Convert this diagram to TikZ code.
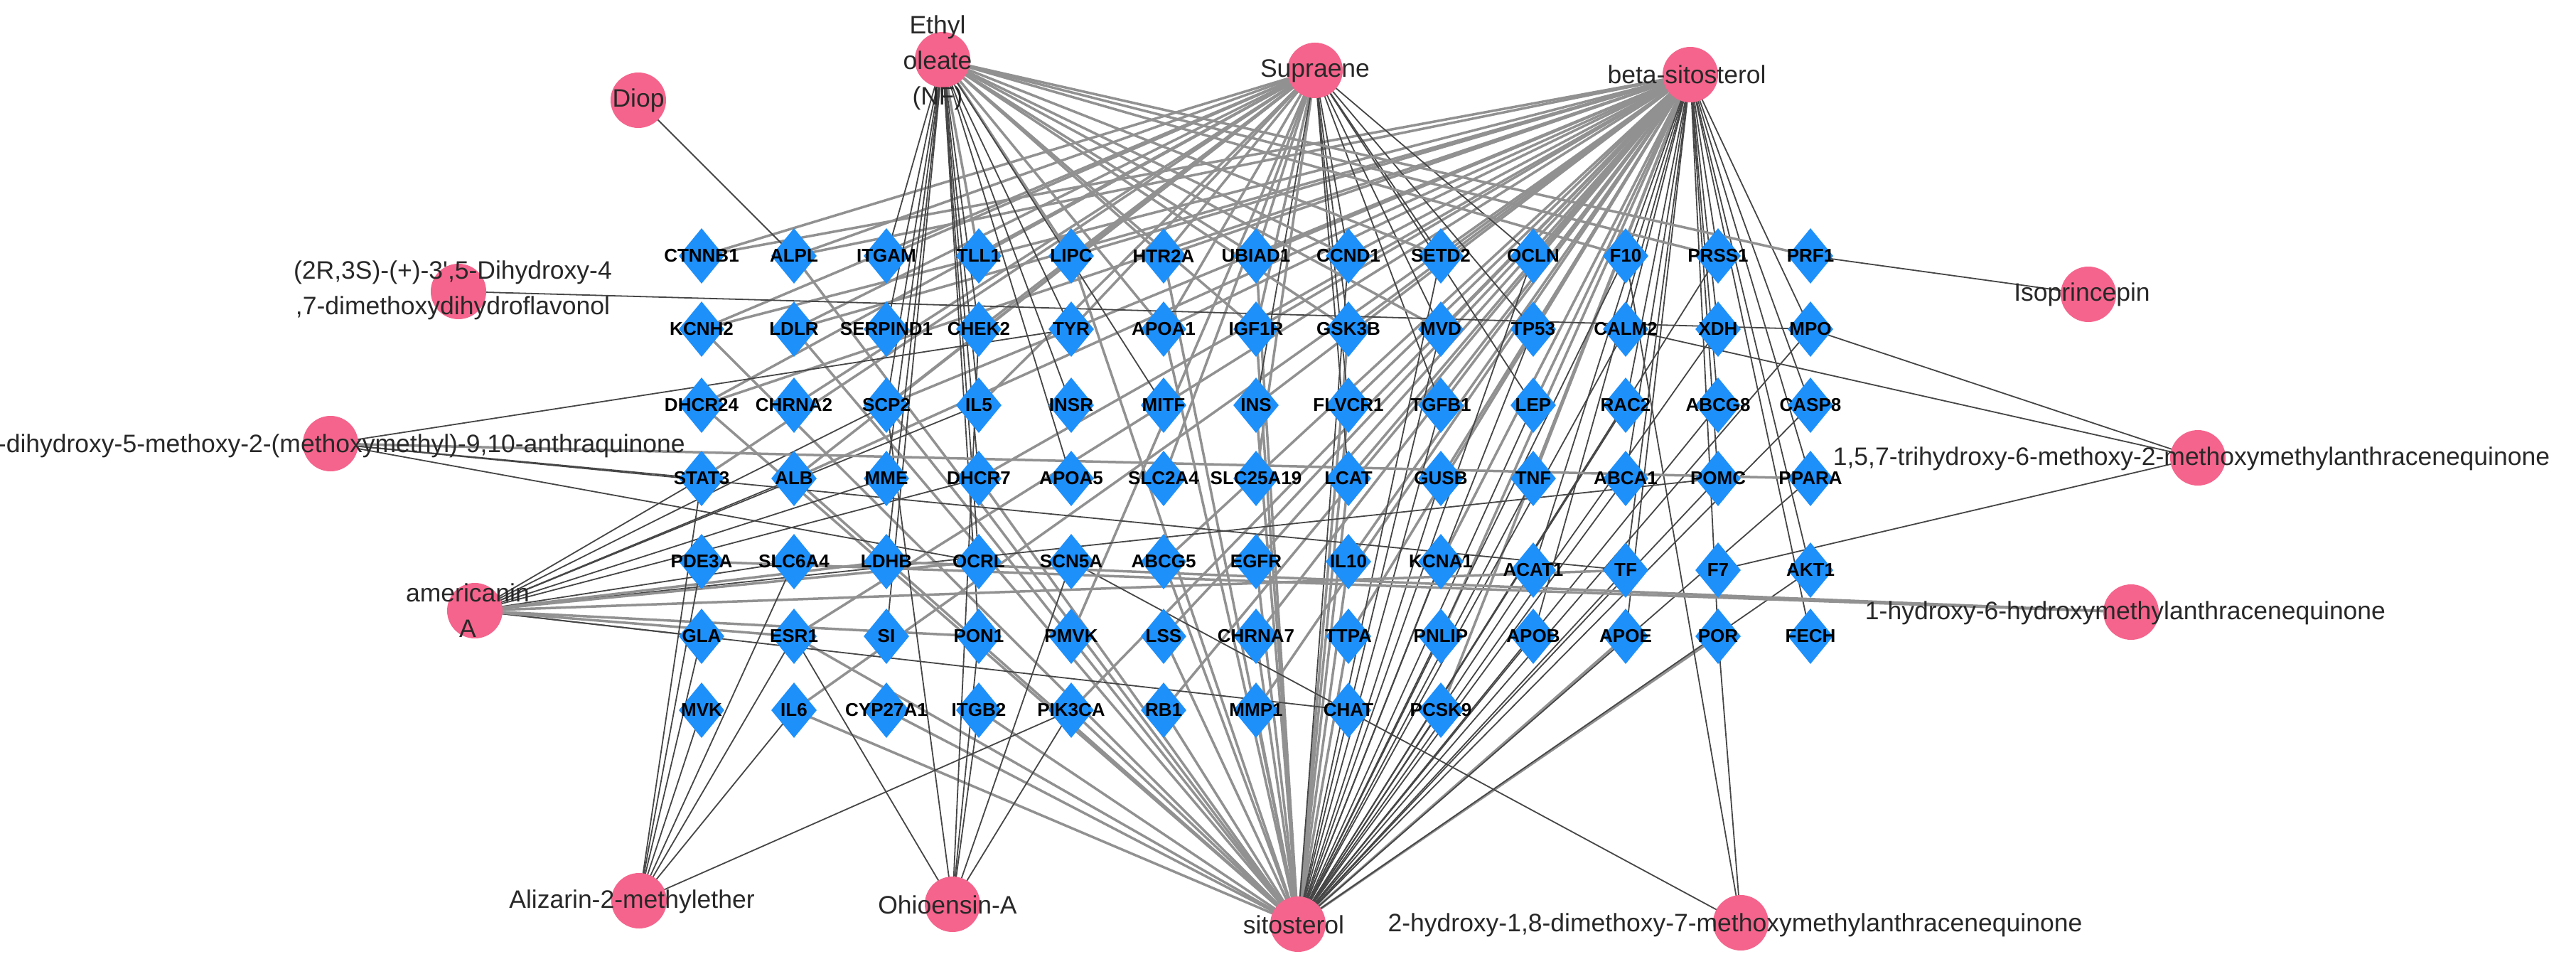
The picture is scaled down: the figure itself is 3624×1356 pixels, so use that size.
\documentclass[tikz,border=0pt]{standalone}
\usepackage{fontspec}
\setmainfont{Liberation Sans}
\usetikzlibrary{shapes.geometric,backgrounds}
\definecolor{pinkc}{RGB}{245,100,140}
\definecolor{bluec}{RGB}{30,144,250}
\definecolor{edgeg}{RGB}{145,145,145}
\definecolor{edged}{RGB}{70,70,70}
\definecolor{txtc}{RGB}{40,40,40}
\begin{document}
\begin{tikzpicture}[x=1pt,y=-1pt,
  gene/.style={diamond,fill=bluec,draw=none,minimum width=64pt,minimum height=78pt,inner sep=0pt},
  glbl/.style={font=\fontsize{26}{28}\selectfont\bfseries,text=black,inner sep=0pt},
  comp/.style={circle,fill=pinkc,draw=none,minimum size=78pt,inner sep=0pt},
  clbl/.style={font=\fontsize{35.5}{50}\selectfont,text=txtc,align=center,inner sep=0pt},
  ge/.style={draw=edgeg,line width=3.5pt},
  de/.style={draw=edged,line width=1.8pt}]
\useasboundingbox (0,0) rectangle (3624,1356);

% ---- gene grid ----
\foreach \n [count=\i from 0] in {CTNNB1,ALPL,ITGAM,TLL1,LIPC,HTR2A,UBIAD1,CCND1,SETD2,OCLN,F10,PRSS1,PRF1}
  \node[gene,label={[glbl]center:\n}] (\n) at ({987+130*\i},360) {};
\foreach \n [count=\i from 0] in {KCNH2,LDLR,SERPIND1,CHEK2,TYR,APOA1,IGF1R,GSK3B,MVD,TP53,CALM2,XDH,MPO}
  \node[gene,label={[glbl]center:\n}] (\n) at ({987+130*\i},463) {};
\foreach \n [count=\i from 0] in {DHCR24,CHRNA2,SCP2,IL5,INSR,MITF,INS,FLVCR1,TGFB1,LEP,RAC2,ABCG8,CASP8}
  \node[gene,label={[glbl]center:\n}] (\n) at ({987+130*\i},570) {};
\foreach \n [count=\i from 0] in {STAT3,ALB,MME,DHCR7,APOA5,SLC2A4,SLC25A19,LCAT,GUSB,TNF,ABCA1,POMC,PPARA}
  \node[gene,label={[glbl]center:\n}] (\n) at ({987+130*\i},673) {};
\foreach \n [count=\i from 0] in {PDE3A,SLC6A4,LDHB,OCRL,SCN5A,ABCG5,EGFR,IL10,KCNA1}
  \node[gene,label={[glbl]center:\n}] (\n) at ({987+130*\i},790) {};
\foreach \n [count=\i from 9] in {ACAT1,TF,F7,AKT1}
  \node[gene,label={[glbl]center:\n}] (\n) at ({987+130*\i},802) {};
\foreach \n [count=\i from 0] in {GLA,ESR1,SI,PON1,PMVK,LSS,CHRNA7,TTPA,PNLIP,APOB,APOE,POR,FECH}
  \node[gene,label={[glbl]center:\n}] (\n) at ({987+130*\i},895) {};
\foreach \n [count=\i from 0] in {MVK,IL6,CYP27A1,ITGB2,PIK3CA,RB1,MMP1,CHAT,PCSK9}
  \node[gene,label={[glbl]center:\n}] (\n) at ({987+130*\i},999) {};

% ---- compounds ----
\node[comp] (diop) at (898,141) {};
\node[clbl] (diopL) at (898,141) {Diop};
\node[comp] (eo) at (1326,84) {};
\node[clbl] (eoL) at (1319,88) {Ethyl\\oleate\\(NF)};
\node[comp] (sup) at (1850,99) {};
\node[clbl] (supL) at (1850,100) {Supraene};
\node[comp] (bsito) at (2378,105) {};
\node[clbl] (bsitoL) at (2373,105) {beta-sitosterol};
\node[comp] (flav) at (645,410) {};
\node[clbl] (flavL) at (637,408) {(2R,3S)-(+)-3\textquotesingle,5-Dihydroxy-4\\,7-dimethoxydihydroflavonol};
\node[comp] (iso) at (2938,414) {};
\node[clbl] (isoL) at (2929,414) {Isoprincepin};
\node[comp] (xan) at (465,624) {};
\node[clbl,anchor=east] (xanL) at (964,627) {-dihydroxy-5-methoxy-2-(methoxymethyl)-9,10-anthraquinone};
\node[comp] (tri) at (3092,644) {};
\node[clbl] (triL) at (3083,645) {1,5,7-trihydroxy-6-methoxy-2-methoxymethylanthracenequinone};
\node[comp] (amer) at (668,859) {};
\node[clbl] (amerL) at (658,859) {americanin\\A};
\node[comp] (hydA) at (2998,861) {};
\node[clbl] (hydAL) at (2990,862) {1-hydroxy-6-hydroxymethylanthracenequinone};
\node[comp] (aliz) at (899,1267) {};
\node[clbl] (alizL) at (889,1268) {Alizarin-2-methylether};
\node[comp] (ohio) at (1340,1272) {};
\node[clbl] (ohioL) at (1333,1273) {Ohioensin-A};
\node[comp] (sito) at (1826,1300) {};
\node[clbl] (sitoL) at (1820,1301) {sitosterol};
\node[comp] (hydB) at (2449,1298) {};
\node[clbl] (hydBL) at (2441,1301) {2-hydroxy-1,8-dimethoxy-7-methoxymethylanthracenequinone};

% ---- edges ----
\begin{pgfonlayer}{background}
\fill[white] (0,0) rectangle (3624,1356);
\foreach \t in {CTNNB1,ALPL,KCNH2,LDLR,DHCR24,SCP2,ALB,LIPC,HTR2A,UBIAD1,CCND1,SETD2,OCLN,APOA1,IGF1R,GSK3B,MVD,TP53,INS,FLVCR1,TGFB1,LEP,DHCR7,LCAT,GUSB,TNF,ABCG5,EGFR,IL10,KCNA1,ESR1,LSS,CHRNA7,TTPA,PNLIP,IL6,PIK3CA,RB1,MMP1,PCSK9}
  \draw[ge] (bsito.center) -- (\t.center);
\foreach \t in {F10,PRSS1,CALM2,XDH,MPO,RAC2,ABCG8,CASP8,ABCA1,POMC,PPARA,ACAT1,TF,AKT1,APOB,APOE,POR,FECH}
  \draw[de] (bsito.center) -- (\t.center);
\foreach \t in {ALPL,LIPC,HTR2A,UBIAD1,KCNH2,LDLR,APOA1,IGF1R,GSK3B,DHCR24,SCP2,INS,FLVCR1,ALB,DHCR7,LCAT,ABCG5,EGFR,IL10,ESR1,LSS,CHRNA7,TTPA,IL6,CYP27A1,ITGB2,PIK3CA,RB1,MMP1,APOE,POR}
  \draw[ge] (sito.center) -- (\t.center);
\foreach \t in {CCND1,SETD2,OCLN,F10,PRSS1,MVD,TP53,CALM2,XDH,MPO,TGFB1,LEP,RAC2,ABCG8,CASP8,GUSB,TNF,ABCA1,POMC,PPARA,KCNA1,ACAT1,TF,AKT1,PNLIP,APOB,PCSK9}
  \draw[de] (sito.center) -- (\t.center);
\foreach \t in {CTNNB1,ALPL,ITGAM,KCNH2,LDLR,DHCR24,CHRNA2,TLL1,LIPC,HTR2A,UBIAD1,CHEK2,TYR,APOA1,IGF1R,STAT3,ALB,SCP2,IL5,SLC2A4,SLC25A19,PMVK}
  \draw[ge] (sup.center) -- (\t.center);
\foreach \t in {CCND1,GSK3B,MVD,TP53,SETD2,OCLN,FLVCR1,TGFB1,LEP,INS,LCAT}
  \draw[de] (sup.center) -- (\t.center);
\foreach \t in {TLL1,LIPC,HTR2A,APOA1,UBIAD1,IGF1R,CCND1,GSK3B,SETD2,MVD,F10,PRSS1,PRF1}
  \draw[ge] (eo.center) -- (\t.center);
\foreach \t in {ITGAM,SERPIND1,CHEK2,TYR,SCP2,IL5,INSR,MITF,MME,DHCR7,APOA5,LDHB,OCRL,SI,PON1}
  \draw[de] (eo.center) -- (\t.center);
\foreach \t in {STAT3,SCP2,IL5,ALB,MME,DHCR7,SLC6A4,GLA,CHAT,POMC}
  \draw[de] (amer.center) -- (\t.center);
\foreach \t in {LDHB,OCRL,ESR1,PON1,TF}
  \draw[ge] (amer.center) -- (\t.center);
\foreach \t in {GLA,MVK,ESR1,IL6,PIK3CA,STAT3,PDE3A,SLC6A4}
  \draw[de] (aliz.center) -- (\t.center);
\foreach \t in {ESR1,ITGB2,PIK3CA,PON1,SCN5A,SCP2,CHEK2}
  \draw[de] (ohio.center) -- (\t.center);
\foreach \t in {POR,F10,SCN5A}
  \draw[de] (hydB.center) -- (\t.center);
\foreach \t in {MPO,CALM2,F7}
  \draw[de] (tri.center) -- (\t.center);
\foreach \t in {PDE3A,LDHB}
  \draw[ge] (hydA.center) -- (\t.center);
\foreach \t in {TYR,STAT3,OCRL,TF}
  \draw[de] (xan.center) -- (\t.center);
\draw[ge] (xan.center) -- (PPARA.center);
\draw[de] (flav.center) -- (MPO.center);
\draw[de] (diop.center) -- (ALPL.center);
\draw[de] (iso.center) -- (PRF1.center);
\end{pgfonlayer}
\end{tikzpicture}
\end{document}
